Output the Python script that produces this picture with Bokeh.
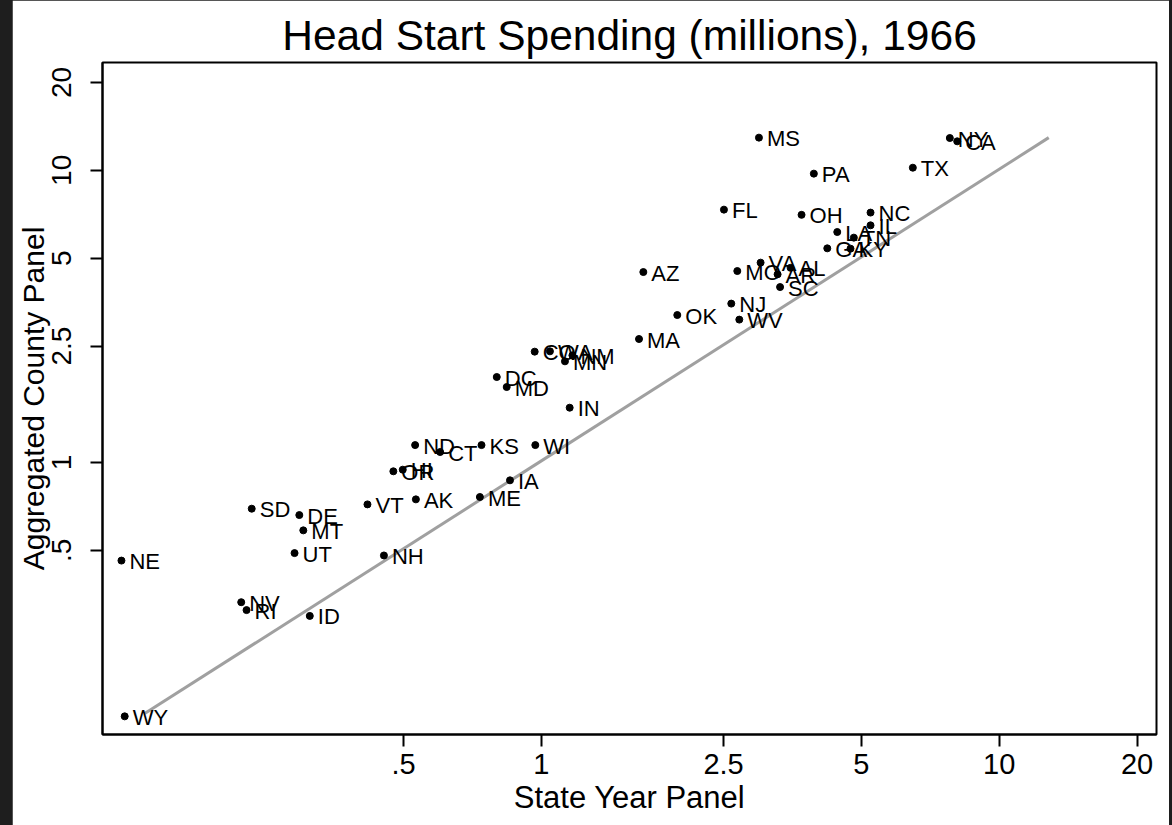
from bokeh.plotting import figure
from bokeh.models import ColumnDataSource, FixedTicker, CustomJSTickFormatter, Range1d
from bokeh.layouts import column
from bokeh.embed import file_html
from bokeh.resources import INLINE
from bokeh.core.properties import value

# ---- data ----
states = ["NE", "WY", "NV", "RI", "UT", "ID", "NH", "SD", "DE", "MT", "VT",
          "OR", "HI", "ND", "CT", "KS", "WI", "AK", "ME", "IA", "DC", "MD",
          "IN", "CO", "WA", "NM", "MN", "MA", "OK", "NJ", "WV", "AZ", "MO",
          "VA", "AR", "AL", "SC", "GA", "KY", "LA", "TN", "IL", "NC", "OH",
          "FL", "PA", "TX", "MS", "NY", "CA"]
state_year_panel = [0.121, 0.123, 0.221, 0.227, 0.289, 0.312, 0.453, 0.233, 0.296, 0.302, 0.417,
                    0.475, 0.498, 0.530, 0.601, 0.740, 0.970, 0.532, 0.734, 0.854, 0.799, 0.840,
                    1.153, 0.967, 1.044, 1.169, 1.126, 1.634, 1.981, 2.599, 2.706, 1.670, 2.679,
                    3.012, 3.281, 3.502, 3.322, 4.212, 4.734, 4.429, 4.814, 5.236, 5.236, 3.701,
                    2.505, 3.937, 6.477, 2.987, 7.801, 8.096]
aggregated_county_panel = [0.461, 0.135, 0.332, 0.312, 0.489, 0.298, 0.480, 0.694, 0.660, 0.585, 0.718,
                           0.932, 0.944, 1.146, 1.085, 1.146, 1.146, 0.747, 0.761, 0.868, 1.960, 1.811,
                           1.539, 2.394, 2.400, 2.325, 2.218, 2.645, 3.195, 3.496, 3.082, 4.484, 4.520,
                           4.830, 4.405, 4.636, 3.984, 5.406, 5.393, 6.148, 5.882, 6.481, 7.166, 7.040,
                           7.335, 9.743, 10.21, 12.94, 12.90, 12.57]

fit_x = [0.136, 12.83]
fit_y = [0.138, 12.94]

tick_values = [0.5, 1, 2.5, 5, 10, 20]
tick_labels = [".5", "1", "2.5", "5", "10", "20"]

FONT = "Liberation Sans"

src = ColumnDataSource(dict(x=state_year_panel, y=aggregated_county_panel, s=states))

p = figure(width=1157, height=825, x_axis_type="log", y_axis_type="log",
           x_range=Range1d(0.110, 22.06), y_range=Range1d(0.117, 23.4),
           output_backend="svg", toolbar_location=None,
           min_border_left=90, min_border_right=13, min_border_top=62, min_border_bottom=91)

p.title.text = "Head Start Spending (millions), 1966"
p.title.align = "center"
p.title.text_font = FONT
p.title.text_font_size = "42.5px"
p.title.text_font_style = "normal"
p.title.text_color = "black"
p.title.standoff = 8

p.background_fill_color = "white"
p.border_fill_color = "white"
p.outline_line_color = "black"
p.outline_line_width = 2
p.xgrid.visible = False
p.ygrid.visible = False

fmt = CustomJSTickFormatter(args=dict(tv=tick_values, tl=tick_labels),
                            code="const i = tv.indexOf(tick); return i >= 0 ? tl[i] : '';")
for ax in (p.xaxis[0], p.yaxis[0]):
    ax.ticker = FixedTicker(ticks=tick_values, minor_ticks=[])
    ax.formatter = fmt
    ax.major_tick_in = 0
    ax.major_tick_out = 12
    ax.major_tick_line_width = 2
    ax.major_tick_line_color = "black"
    ax.minor_tick_line_color = None
    ax.axis_line_width = 2
    ax.axis_line_color = "black"
    ax.major_label_text_font = FONT
    ax.major_label_text_color = "black"
    ax.axis_label_text_font = FONT
    ax.axis_label_text_font_style = "normal"
    ax.axis_label_text_color = "black"

p.xaxis.major_label_text_font_size = "29px"
p.xaxis.axis_label_text_font_size = "31px"
p.xaxis.axis_label = "State Year Panel"
p.xaxis.major_label_standoff = 7
p.xaxis.axis_label_standoff = 3

p.yaxis.major_label_text_font_size = "28px"
p.yaxis.axis_label_text_font_size = "30px"
p.yaxis.axis_label = "Aggregated County Panel"
p.yaxis.major_label_orientation = "vertical"
p.yaxis.major_label_standoff = 19
p.yaxis.axis_label_standoff = 0

p.line(fit_x, fit_y, line_color="#a0a0a0", line_width=3)
p.scatter("x", "y", source=src, size=7, fill_color="black", line_color="black")
p.text("x", "y", text="s", source=src, x_offset=8, y_offset=1,
       text_align="left", text_baseline="middle",
       text_font=value(FONT), text_font_size="22px", text_color="black")

layout = column(p, styles={"background-color": "#1e1e1e", "padding-left": "12px",
                           "padding-right": "3px"})

open("out.html", "w").write(file_html(layout, INLINE))
